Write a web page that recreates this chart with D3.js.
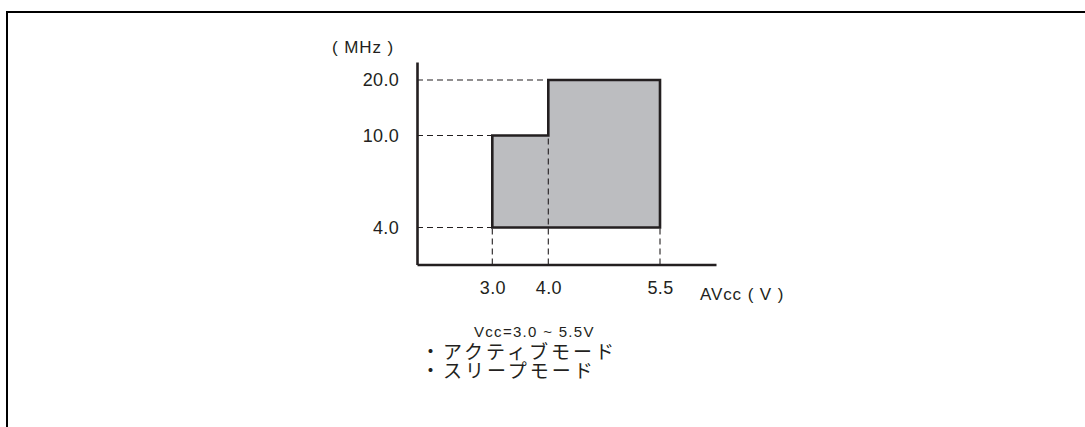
<!DOCTYPE html>
<html><head><meta charset="utf-8">
<script src="https://cdn.jsdelivr.net/npm/d3@7/dist/d3.min.js"></script>
<style>
html,body{margin:0;padding:0;background:#fff;}
svg{display:block;}
text{font-family:"Liberation Sans",Arial,sans-serif;fill:#231f20;}
.jp{font-family:"Noto Sans CJK JP","Liberation Sans",sans-serif;}
</style></head>
<body>
<script>
// Voltage (V) breakpoints of the operating region
const voltages = [3.0, 4.0, 5.5];
// Frequency (MHz) breakpoints
const freqs = [4.0, 10.0, 20.0];
// Operating region outline: [voltage, frequency]
const region = [[3.0, 4.0], [3.0, 10.0], [4.0, 10.0], [4.0, 20.0], [5.5, 20.0], [5.5, 4.0]];
const xTickLabels = ["3.0", "4.0", "5.5"];
const yTickLabels = ["4.0", "10.0", "20.0"];
const yUnit = "( MHz )";
const xUnit = "AVcc ( V )";
const noteTitle = "Vcc=3.0 ~ 5.5V";
const noteLines = ["・アクティブモード", "・スリープモード"];

const W = 1085, H = 427;
const svg = d3.select("body").append("svg").attr("width", W).attr("height", H);

// Frame (top and left edges)
svg.append("path").attr("d", `M7,${H}V12H${W}`).attr("fill", "none")
  .attr("stroke", "#000").attr("stroke-width", 2);

// Schematic (piecewise-linear) scales
const x = d3.scaleLinear().domain([2.0, 3.0, 4.0, 5.5, 6.3]).range([417, 492.3, 548.3, 660, 716]);
const y = d3.scaleLinear().domain([2.0, 4.0, 10.0, 20.0, 22.7]).range([264.5, 227.5, 135.5, 80, 62]);

const ink = "#231f20";

// Shaded operating region
svg.append("path")
  .attr("d", d3.line().x(d => x(d[0])).y(d => y(d[1]))(region) + "Z")
  .attr("fill", "#bcbdc0").attr("stroke", ink).attr("stroke-width", 2.6)
  .attr("stroke-linejoin", "miter");

// Dashed guide lines
const dash = svg.append("g").attr("stroke", ink).attr("stroke-width", 1.1)
  .attr("stroke-dasharray", "6,4").attr("fill", "none");
const hGuides = [[4.0, 3.0], [10.0, 3.0], [20.0, 4.0]];
hGuides.forEach(([f, v]) => {
  dash.append("line").attr("x1", x.range()[0]).attr("x2", x(v)).attr("y1", y(f)).attr("y2", y(f));
});
const vGuides = [[3.0, 4.0], [4.0, 10.0], [5.5, 4.0]];
vGuides.forEach(([v, f]) => {
  dash.append("line").attr("x1", x(v)).attr("x2", x(v)).attr("y1", y.range()[0]).attr("y2", y(f));
});

// Axes
const xAxis = d3.axisBottom(x).tickValues(voltages).tickFormat((d, i) => xTickLabels[i])
  .tickSize(0).tickSizeOuter(0).tickPadding(17);
const yAxis = d3.axisLeft(y).tickValues(freqs).tickFormat((d, i) => yTickLabels[i])
  .tickSize(0).tickSizeOuter(0).tickPadding(18);

const gx = svg.append("g").attr("transform", `translate(0,${y.range()[0]})`).call(xAxis);
const gy = svg.append("g").attr("transform", `translate(${x.range()[0]},0)`).call(yAxis);
[gx, gy].forEach(g => {
  g.select(".domain").attr("stroke", ink).attr("stroke-width", 2.6);
  g.selectAll("text").attr("font-size", 18).attr("fill", ink).attr("letter-spacing", "0.3px")
    .attr("font-weight", "normal")
    .attr("font-family", "'Liberation Sans',Arial,sans-serif");
});

// Unit labels
svg.append("text").attr("x", 332).attr("y", 53).attr("font-size", 17)
  .attr("letter-spacing", "0.9px").attr("xml:space", "preserve").text(yUnit);
svg.append("text").attr("x", 700).attr("y", 300).attr("font-size", 17)
  .attr("letter-spacing", "0.9px").attr("xml:space", "preserve").text(xUnit);

// Notes
svg.append("text").attr("x", 474).attr("y", 337).attr("font-size", 15)
  .attr("letter-spacing", "1.3px").text(noteTitle);

noteLines.forEach((t, i) => {
  svg.append("text").attr("class", "jp").attr("x", 421).attr("y", 358.5 + i * 19)
    .attr("font-size", 19).attr("letter-spacing", "3px").text(t);
});
</script>
</body></html>
